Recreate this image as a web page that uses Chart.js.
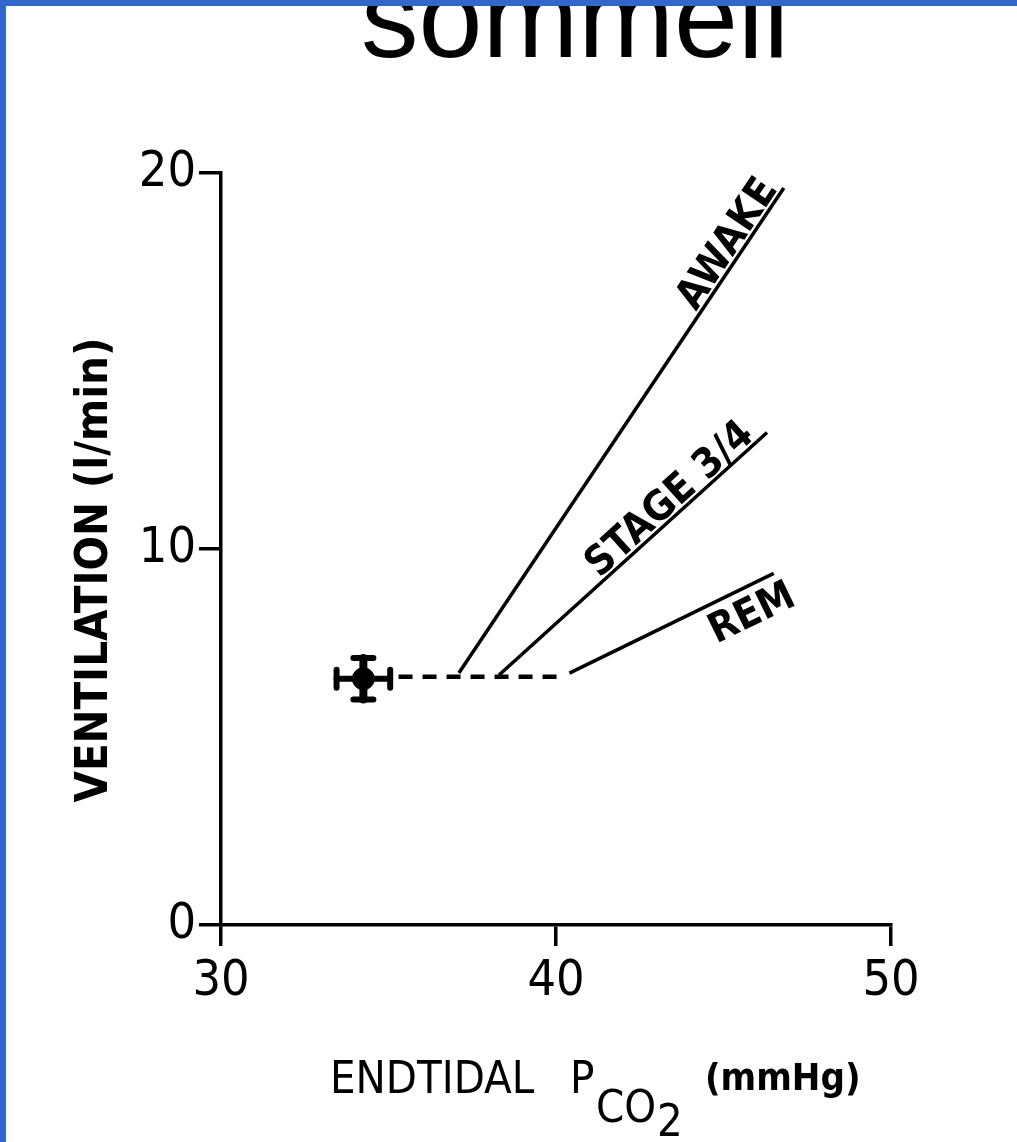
<!DOCTYPE html>
<html>
<head>
<meta charset="utf-8">
<script src="https://cdn.jsdelivr.net/npm/chart.js@4.4.1/dist/chart.umd.min.js"></script>
<style>
html,body{margin:0;padding:0;background:#fff;}
#wrap{position:relative;width:1017px;height:1142px;}
canvas{display:block;}
</style>
</head>
<body>
<div id="wrap"><canvas id="c" width="1017" height="1142"></canvas></div>
<script>
// ---- data ----
const seriesNames = ['AWAKE', 'STAGE 3/4', 'REM'];
const startPco2 = [37.1, 38.3, 40.4];
const startVent = [6.7, 6.65, 6.7];
const endPco2 = [46.8, 46.3, 46.5];
const endVent = [19.6, 13.1, 9.35];
const baselinePco2 = [35.3, 40.3];
const baselineVent = [6.6, 6.6];
const meanPco2 = [34.25];
const meanVent = [6.55];
const errPco2 = [0.8];
const errVent = [0.55];
const xTicks = [30, 40, 50];
const yTicks = [0, 10, 20];
const titleText = 'sommeil';
const yTitle = 'VENTILATION (l/min)';

const NARROW = "'Liberation Sans Narrow','DejaVu Sans Condensed','Liberation Sans',sans-serif";
const labelBelow = [false, false, true];
const labelShift = [-4, -12, 8];

const lineSets = seriesNames.map((n, i) => ({
  label: n,
  data: [{x: startPco2[i], y: startVent[i]}, {x: endPco2[i], y: endVent[i]}],
  showLine: true, borderColor: '#000', borderWidth: 3.5, pointRadius: 0, fill: false
}));
const baselineSet = {
  label: 'baseline',
  data: baselinePco2.map((x, i) => ({x, y: baselineVent[i]})),
  showLine: true, borderColor: '#000', borderWidth: 4.5, borderDash: [14, 10],
  pointRadius: 0, fill: false
};
const meanSet = {
  label: 'mean',
  data: meanPco2.map((x, i) => ({x, y: meanVent[i]})),
  pointStyle: 'circle', pointRadius: 11, backgroundColor: '#000', borderColor: '#000'
};

const decor = {
  id: 'decor',
  afterDatasetsDraw(chart) {
    const ctx = chart.ctx, xs = chart.scales.x, ys = chart.scales.y;
    ctx.save();
    ctx.strokeStyle = '#000';
    ctx.lineCap = 'round';
    meanPco2.forEach((mx, i) => {
      const cx = xs.getPixelForValue(mx), cy = ys.getPixelForValue(meanVent[i]);
      const x0 = xs.getPixelForValue(mx - errPco2[i]), x1 = xs.getPixelForValue(mx + errPco2[i]);
      const y0 = ys.getPixelForValue(meanVent[i] - errVent[i]), y1 = ys.getPixelForValue(meanVent[i] + errVent[i]);
      ctx.lineWidth = 6;
      ctx.beginPath(); ctx.moveTo(x0, cy); ctx.lineTo(x1, cy); ctx.stroke();
      ctx.lineWidth = 8;
      ctx.beginPath(); ctx.moveTo(cx, y0); ctx.lineTo(cx, y1); ctx.stroke();
      ctx.lineWidth = 6;
      ctx.beginPath(); ctx.moveTo(x0, cy - 9); ctx.lineTo(x0, cy + 9); ctx.stroke();
      ctx.beginPath(); ctx.moveTo(x1, cy - 9); ctx.lineTo(x1, cy + 9); ctx.stroke();
      ctx.beginPath(); ctx.moveTo(cx - 10, y0); ctx.lineTo(cx + 10, y0); ctx.stroke();
      ctx.beginPath(); ctx.moveTo(cx - 10, y1); ctx.lineTo(cx + 10, y1); ctx.stroke();
    });
    ctx.restore();
    seriesNames.forEach((n, i) => {
      const px0 = xs.getPixelForValue(startPco2[i]), py0 = ys.getPixelForValue(startVent[i]);
      const px1 = xs.getPixelForValue(endPco2[i]), py1 = ys.getPixelForValue(endVent[i]);
      const ang = Math.atan2(py1 - py0, px1 - px0);
      ctx.save();
      ctx.translate(px1, py1);
      ctx.rotate(ang);
      ctx.translate(labelShift[i], labelBelow[i] ? 7 : -4);
      ctx.font = "bold 41px " + NARROW;
      ctx.fillStyle = '#000';
      ctx.textAlign = 'right';
      ctx.textBaseline = labelBelow[i] ? 'top' : 'alphabetic';
      ctx.fillText(n, 0, 0);
      ctx.restore();
    });
  },
  afterDraw(chart) {
    const ctx = chart.ctx;
    ctx.save();
    ctx.fillStyle = '#000';
    ctx.font = "115px 'Liberation Sans', Arial, sans-serif";
    ctx.textAlign = 'center';
    ctx.textBaseline = 'alphabetic';
    ctx.fillText(titleText, 575, 57);
    ctx.fillStyle = '#3366cc';
    ctx.fillRect(0, 0, 1017, 6);
    ctx.fillRect(0, 0, 6, 1142);
    ctx.fillStyle = '#000';
    ctx.translate(95, 570);
    ctx.rotate(-Math.PI / 2);
    ctx.font = "bold 45px " + NARROW;
    ctx.textAlign = 'center';
    ctx.textBaseline = 'middle';
    ctx.fillText(yTitle, 0, 0);
    ctx.restore();
    ctx.save();
    ctx.fillStyle = '#000';
    ctx.textBaseline = 'alphabetic';
    ctx.textAlign = 'left';
    ctx.font = "45px " + NARROW;
    ctx.fillText('ENDTIDAL', 330, 1093);
    ctx.fillText('P', 570, 1093);
    ctx.fillText('CO', 596, 1122);
    ctx.fillText('2', 657, 1136);
    ctx.font = "bold 38px " + NARROW;
    ctx.fillText('(mmHg)', 705, 1090);
    ctx.restore();
  }
};

new Chart(document.getElementById('c'), {
  type: 'scatter',
  data: { datasets: [...lineSets, baselineSet, meanSet] },
  options: {
    responsive: false,
    animation: false,
    layout: { padding: { left: 0, top: 173, right: 126, bottom: 0 } },
    plugins: { legend: { display: false }, tooltip: { enabled: false }, title: { display: false } },
    scales: {
      x: {
        type: 'linear', min: 30, max: 50,
        afterBuildTicks: s => { s.ticks = xTicks.map(v => ({value: v})); },
        afterFit: s => { s.height = 217; },
        grid: { drawOnChartArea: false, drawTicks: true, tickLength: 21, color: '#000', lineWidth: 3.5 },
        border: { display: true, color: '#000', width: 3.5 },
        ticks: { color: '#000', font: { family: NARROW, size: 50 }, padding: 6, maxRotation: 0 }
      },
      y: {
        type: 'linear', min: 0, max: 20,
        afterBuildTicks: s => { s.ticks = yTicks.map(v => ({value: v})); },
        afterFit: s => { s.width = 221; },
        grid: { drawOnChartArea: false, drawTicks: true, tickLength: 22, color: '#000', lineWidth: 3.5 },
        border: { display: true, color: '#000', width: 3.5 },
        ticks: { color: '#000', font: { family: NARROW, size: 50 }, padding: 3 }
      }
    }
  },
  plugins: [decor]
});
</script>
</body>
</html>
